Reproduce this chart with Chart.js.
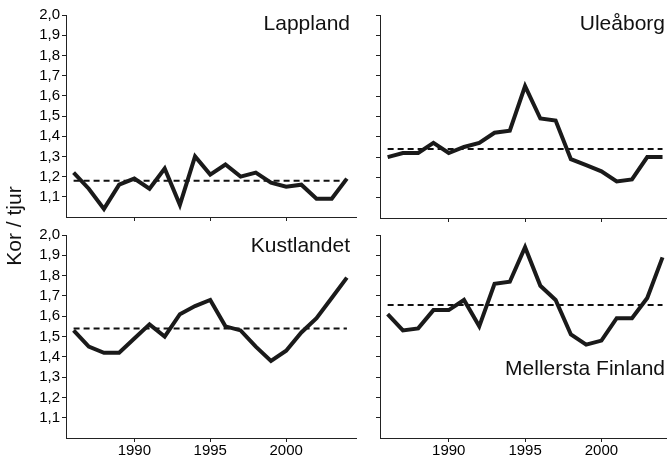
<!DOCTYPE html>
<html><head><meta charset="utf-8">
<script src="https://cdn.jsdelivr.net/npm/chart.js@4.4.1/dist/chart.umd.min.js"></script>
<style>
html,body{margin:0;padding:0;width:667px;height:460px;overflow:hidden;background:#fff;position:relative;}
canvas{position:absolute;}
.t{position:absolute;font-family:"Liberation Sans",Arial,sans-serif;font-size:21px;line-height:21px;color:#111;white-space:nowrap;text-align:right;width:200px;}
.yt{position:absolute;font-family:"Liberation Sans",Arial,sans-serif;font-size:21px;line-height:24px;color:#111;white-space:nowrap;text-align:center;width:120px;height:24px;transform:rotate(-90deg);}
</style></head><body>
<canvas id="c1" width="360" height="228" style="left:0;top:0"></canvas>
<canvas id="c2" width="345" height="228" style="left:330px;top:0"></canvas>
<canvas id="c3" width="360" height="240" style="left:0;top:220px"></canvas>
<canvas id="c4" width="345" height="240" style="left:330px;top:220px"></canvas>
<script>
const years = [1986,1987,1988,1989,1990,1991,1992,1993,1994,1995,1996,1997,1998,1999,2000,2001,2002,2003,2004];
const lappland   = [1.22,1.14,1.04,1.16,1.19,1.14,1.24,1.06,1.30,1.21,1.26,1.20,1.22,1.17,1.15,1.16,1.09,1.09,1.19];
const uleaborg   = [1.30,1.32,1.32,1.37,1.32,1.35,1.37,1.42,1.43,1.65,1.49,1.48,1.29,1.26,1.23,1.18,1.19,1.30,1.30];
const kustlandet = [1.53,1.45,1.42,1.42,1.49,1.56,1.50,1.61,1.65,1.68,1.55,1.53,1.45,1.38,1.43,1.52,1.59,1.69,1.79];
const mellersta  = [1.61,1.53,1.54,1.63,1.63,1.68,1.55,1.76,1.77,1.94,1.75,1.68,1.51,1.46,1.48,1.59,1.59,1.69,1.89];
const meanValues = [1.18,1.34,1.54,1.655];
const panelNames = ['Lappland','Uleåborg','Kustlandet','Mellersta Finland'];
const xTickYears = [1990,1995,2000];
const yTickValues = [1.1,1.2,1.3,1.4,1.5,1.6,1.7,1.8,1.9,2.0];
const yAxisTitle = 'Kor / tjur';

const FONT = '"Liberation Sans", Arial, sans-serif';
const AXIS = '#222';

function makePanel(id, values, mean, o) {
  const data = years.map((y,i)=>({x:y, y:values[i]}));
  const meanData = [{x:years[0], y:mean},{x:years[years.length-1], y:mean}];
  return new Chart(document.getElementById(id), {
    type:'line',
    data:{datasets:[
      {data:data, borderColor:'#1a1a1a', borderWidth:4, pointRadius:0, tension:0, borderJoinStyle:'miter', fill:false},
      {data:meanData, borderColor:'#111', borderWidth:2, borderDash:[6,4], pointRadius:0, fill:false}
    ]},
    options:{
      responsive:false, animation:false, events:[],
      layout:{padding:o.padding},
      plugins:{legend:{display:false}, tooltip:{enabled:false}},
      scales:{
        x:{type:'linear', min:1985.5, max:o.xMax,
          afterBuildTicks: s => { s.ticks = xTickYears.map(v=>({value:v})); },
          afterFit: s => { s.height = o.xh; },
          grid:{display:true, drawOnChartArea:false, drawTicks:true, tickLength:4, color:AXIS, lineWidth:1},
          border:{display:true, color:AXIS, width:1},
          ticks:{display:o.showX, padding:0, color:'#000', font:{family:FONT, size:15}, autoSkip:false, maxRotation:0, callback: v => String(v)}
        },
        y:{type:'linear', min:1.0, max:2.0,
          afterBuildTicks: s => { s.ticks = yTickValues.map(v=>({value:v})); },
          afterFit: s => { s.width = o.yw; },
          grid:{display:true, drawOnChartArea:false, drawTicks:true, tickLength:4, color:AXIS, lineWidth:1},
          border:{display:true, color:AXIS, width:1},
          ticks:{display:o.showY, padding:2, color:'#000', font:{family:FONT, size:15}, autoSkip:false, callback: v => v.toFixed(1).replace('.', ',')}
        }
      }
    }
  });
}

makePanel('c1', lappland, meanValues[0], {padding:{left:0,top:15,right:4,bottom:0}, xh:10, yw:66, showX:false, showY:true, xMax:2004.6});
makePanel('c2', uleaborg, meanValues[1], {padding:{left:0,top:15,right:5,bottom:0}, xh:10, yw:50, showX:false, showY:false, xMax:2004.49});
makePanel('c3', kustlandet, meanValues[2], {padding:{left:0,top:15,right:4,bottom:0}, xh:22, yw:66, showX:true, showY:true, xMax:2004.6});
makePanel('c4', mellersta, meanValues[3], {padding:{left:0,top:15,right:5,bottom:0}, xh:22, yw:50, showX:true, showY:false, xMax:2004.49});

const titlePos = [[150,12],[465,12],[150,234],[465,356.5]];
panelNames.forEach((n,i)=>{
  const d = document.createElement('div');
  d.className = 't';
  d.textContent = n;
  d.style.left = titlePos[i][0] + 'px';
  d.style.top = titlePos[i][1] + 'px';
  document.body.appendChild(d);
});
const yt = document.createElement('div');
yt.className = 'yt';
yt.textContent = yAxisTitle;
yt.style.left = (14-60) + 'px';
yt.style.top = (226-12) + 'px';
document.body.appendChild(yt);
</script>
</body></html>
